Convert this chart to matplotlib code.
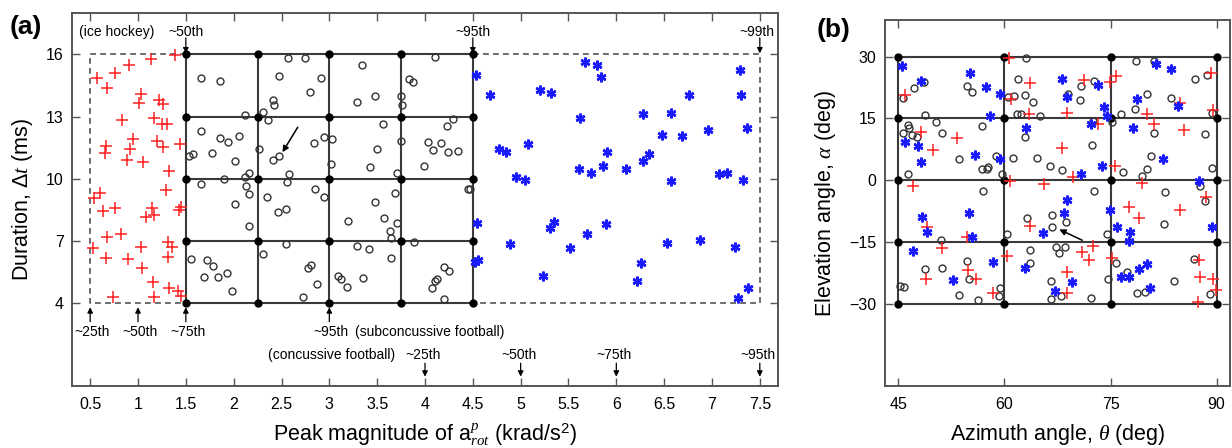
import numpy as np
import matplotlib
matplotlib.use("Agg")
import matplotlib.pyplot as plt

plt.rcParams['font.family'] = ['Liberation Sans', 'DejaVu Sans']
plt.rcParams['mathtext.fontset'] = 'custom'
plt.rcParams['mathtext.rm'] = 'Liberation Sans'
plt.rcParams['mathtext.it'] = 'Liberation Serif:italic'
plt.rcParams['mathtext.bf'] = 'Liberation Sans:bold'

# ---------------- panel (a) data ----------------
hockey_x = [1.39, 1.14, 0.91, 0.76, 0.57, 0.68, 1.03, 1.01, 1.22, 1.26, 0.83, 1.17, 1.25, 1.30,
            0.95, 1.20, 1.44, 0.67, 0.66, 0.92, 1.26, 0.89, 1.05, 1.32, 1.29, 0.54, 0.60, 0.63,
            0.76, 1.08, 1.17, 1.15, 1.43, 1.45, 0.68, 0.82, 0.53, 0.67, 0.90, 1.03, 1.04, 1.31,
            1.36, 1.31, 1.16, 1.32, 1.42, 1.45, 0.74, 1.17]
hockey_y = [15.95, 15.79, 15.47, 15.10, 14.88, 14.38, 14.09, 13.66, 13.79, 13.61, 12.82, 12.95, 12.66, 12.66,
            11.94, 11.84, 11.70, 11.57, 11.25, 11.43, 11.54, 10.90, 10.81, 10.37, 9.45, 9.08, 9.32, 8.44,
            8.60, 8.17, 8.25, 8.60, 8.49, 8.65, 7.17, 7.32, 6.65, 6.16, 6.12, 6.69, 5.71, 6.96,
            6.72, 6.21, 5.04, 4.72, 4.59, 4.36, 4.29, 4.31]

conc_x = [1.66, 1.86, 2.57, 2.75, 2.47, 2.91, 2.80, 2.41, 2.42, 2.31, 2.36, 2.12, 3.34, 3.29,
          3.48, 3.83, 3.87, 3.75, 3.76, 4.10, 3.56, 4.29, 4.23, 3.75, 4.03, 4.17, 4.08, 4.24,
          4.35, 3.99, 3.71, 3.69, 4.45, 4.47, 1.66, 1.86, 1.94, 2.06, 1.77, 1.53, 1.57, 2.01,
          2.26, 2.41, 2.47, 2.84, 2.94, 3.03, 3.02, 3.50, 3.42, 1.66, 1.90, 2.12, 2.16, 2.13,
          2.16, 2.35, 2.56, 2.58, 2.85, 2.94, 2.01, 2.16, 2.46, 2.55, 3.20, 3.48, 3.57, 3.63,
          3.64, 3.71, 1.55, 1.72, 1.78, 1.69, 1.84, 1.93, 1.98, 2.31, 2.55, 2.78, 2.81, 2.87,
          2.72, 3.09, 3.12, 3.18, 3.29, 3.35, 3.41, 3.64, 3.88, 4.20, 4.25, 4.13, 4.10, 4.07, 4.20]
conc_y = [14.86, 14.73, 15.82, 15.84, 14.96, 14.88, 14.17, 13.82, 13.54, 13.22, 12.82, 13.06, 15.47, 13.69,
          13.99, 14.83, 14.67, 13.98, 13.54, 15.87, 12.66, 12.88, 12.53, 11.81, 11.78, 11.73, 11.39, 11.30,
          11.35, 10.61, 10.26, 9.29, 9.53, 9.49, 12.29, 11.97, 11.78, 12.07, 11.25, 11.09, 11.19, 10.86,
          11.43, 10.90, 11.10, 11.75, 12.02, 11.94, 10.70, 11.43, 10.57, 9.77, 10.01, 10.09, 10.26, 9.66,
          9.26, 9.13, 9.85, 10.21, 9.49, 9.10, 8.76, 7.72, 8.38, 8.52, 7.97, 8.86, 8.12, 7.49,
          7.13, 7.88, 6.12, 6.08, 5.81, 5.28, 5.25, 5.47, 4.60, 6.36, 6.84, 5.68, 5.84, 4.94,
          4.29, 5.33, 5.17, 4.80, 6.77, 5.23, 6.60, 6.19, 6.96, 5.73, 5.57, 5.15, 5.08, 4.72, 4.20]

sub_x = [4.53, 4.68, 5.67, 5.80, 5.84, 5.20, 5.32, 5.62, 6.28, 6.57, 6.76, 7.29, 7.30, 7.37,
         6.48, 6.69, 6.96, 4.77, 4.85, 5.08, 5.90, 6.34, 6.28, 5.86, 5.61, 5.74, 6.10, 4.95,
         5.05, 6.57, 7.07, 7.16, 7.32, 4.54, 4.89, 4.52, 4.55, 5.31, 5.35, 5.23, 5.52, 5.69,
         5.89, 6.26, 6.22, 6.53, 6.87, 7.24, 7.38, 7.27]
sub_y = [15.02, 14.03, 15.63, 15.47, 14.91, 14.30, 14.16, 12.95, 13.11, 13.17, 14.06, 15.23, 14.03, 12.47,
         12.13, 12.05, 12.37, 11.43, 11.30, 11.70, 11.27, 11.19, 10.85, 10.62, 10.46, 10.30, 10.45, 10.08,
         9.95, 9.89, 10.22, 10.26, 9.93, 7.85, 6.84, 6.00, 6.08, 7.61, 7.93, 5.31, 6.65, 7.33,
         7.80, 5.92, 5.09, 6.89, 7.05, 6.72, 4.75, 4.24]

grid_a_x = [1.5, 2.25, 3.0, 3.75, 4.5]
grid_a_y = [4, 7, 10, 13, 16]
xticks_a = [0.5, 1, 1.5, 2, 2.5, 3, 3.5, 4, 4.5, 5, 5.5, 6, 6.5, 7, 7.5]
xticklabels_a = ['0.5', '1', '1.5', '2', '2.5', '3', '3.5', '4', '4.5', '5', '5.5', '6', '6.5', '7', '7.5']
yticks_a = [4, 7, 10, 13, 16]

# percentile markers: (label, x)
top_marks = [('~50th', 1.5), ('~95th', 4.5), ('~99th', 7.5)]
mid_marks = [('~25th', 0.5), ('~50th', 1.0), ('~75th', 1.5), ('~95th', 3.0)]
low_marks = [('~25th', 4.0), ('~50th', 5.0), ('~75th', 6.0), ('~95th', 7.5)]

# ---------------- panel (b) data ----------------
b_hockey_x = [45.94, 48.15, 49.92, 53.30, 47.02, 60.62, 60.96, 63.63, 63.44, 60.82, 65.55, 68.83,
              68.13, 69.72, 71.26, 73.29, 74.93, 75.73, 75.63, 79.47, 80.18, 81.12, 84.88, 85.44,
              89.24, 89.47, 88.54, 77.66, 79.07, 84.88, 48.99, 51.10, 48.85, 54.76, 54.85, 56.03,
              58.43, 60.31, 63.63, 68.87, 68.87, 70.94, 72.02, 72.49, 75.21, 87.45, 87.59, 89.47,
              89.90, 87.36]
b_hockey_y = [20.63, 11.73, 7.44, 10.35, -1.37, 29.77, 19.66, 23.62, 16.02, -0.16, -0.97, 16.34,
              7.69, 0.65, 24.43, 13.59, 23.87, 25.32, 3.48, -0.81, 16.18, 13.59, 18.77, 12.30,
              26.05, 16.99, -4.04, -6.47, -9.30, -7.28, -11.33, -16.59, -24.03, -13.92, -21.84, -24.03,
              -27.35, -18.45, -11.17, -22.41, -27.35, -17.39, -19.42, -15.94, -19.01, -19.42, -23.62, -24.07,
              -26.70, -29.53]

b_conc_x = [45.62, 45.70, 46.41, 46.55, 46.88, 47.67, 46.32, 47.25, 48.66, 48.76, 50.30, 51.10,
            53.54, 54.76, 55.47, 56.83, 56.83, 57.53, 57.68, 56.96, 58.75, 59.64, 60.49, 61.32,
            61.98, 61.74, 62.36, 62.93, 63.07, 62.93, 63.99, 65.08, 61.27, 64.65, 66.38, 68.08,
            68.92, 70.80, 70.66, 72.67, 72.58, 72.44, 72.67, 75.27, 76.46, 76.83, 78.47, 78.61,
            80.18, 79.47, 80.10, 80.66, 81.12, 81.22, 83.61, 82.67, 86.91, 88.69, 88.41, 89.33,
            89.42, 87.63, 88.38, 63.25, 66.72, 66.77, 68.74, 60.42, 63.63, 63.63, 67.29, 68.55,
            67.75, 66.63, 66.63, 67.95, 72.31, 74.51, 74.65, 75.73, 77.35, 78.76, 79.94, 82.62,
            83.93, 86.77, 89.14, 50.99, 48.82, 51.17, 45.24, 45.85, 53.54, 56.26, 54.71, 54.95,
            59.31, 59.21]
b_conc_y = [19.98, 11.49, 13.35, 12.78, 10.92, 10.52, 1.38, 22.49, 23.95, 15.78, 14.16, 11.57,
            5.10, 22.82, 21.44, 13.19, 2.59, 2.83, 3.16, -2.67, 5.83, 1.46, 20.23, 20.39,
            24.68, 16.18, 16.18, 20.79, 29.77, 10.52, 19.01, 15.53, 5.26, 5.50, 3.48, 2.43,
            21.04, 22.82, 19.58, 24.11, 14.32, 8.66, -2.67, 14.16, 16.18, 2.02, 17.23, 28.97,
            20.87, 1.05, 2.67, 5.91, 11.49, 28.97, 19.98, -2.99, 24.68, 25.49, 11.17, 16.42,
            2.99, -1.37, -5.10, -9.30, -8.50, -11.33, -10.11, -13.19, -16.99, -20.07, -16.18, -16.18,
            -17.80, -24.51, -28.88, -28.07, -28.64, -13.19, -24.03, -20.22, -22.25, -27.35, -27.10, -10.68,
            -24.43, -19.25, -27.67, -14.56, -21.60, -21.44, -25.73, -25.89, -27.91, -29.13, -19.58, -24.11,
            -26.29, -28.16]

b_sub_x = [45.48, 48.26, 45.94, 47.73, 48.26, 55.19, 57.44, 57.90, 59.41, 55.79, 59.31, 63.07,
           68.08, 68.78, 70.89, 73.29, 74.09, 72.21, 74.55, 73.84, 68.78, 68.36, 74.93, 54.99,
           48.40, 78.77, 78.21, 81.50, 83.61, 84.50, 82.43, 87.55, 49.06, 55.42, 47.08, 52.77,
           58.37, 62.93, 65.41, 67.10, 69.58, 75.96, 77.75, 77.61, 76.44, 77.61, 79.02, 80.10,
           80.52, 89.33]
b_sub_y = [27.67, 24.03, 9.30, 8.33, 4.29, 26.05, 22.65, 15.53, 20.87, 6.07, 5.02, 12.70,
           24.68, 20.23, 1.46, 23.06, 17.80, 13.75, 15.61, 3.40, -4.85, -8.09, -7.28, -8.09,
           -9.06, 19.66, 12.70, 28.32, 26.94, 18.04, 5.10, -0.24, -12.54, -13.75, -17.15, -24.27,
           -19.98, -21.44, -12.78, -26.86, -24.68, -11.49, -12.54, -14.81, -23.46, -23.46, -21.68, -20.39,
           -26.29, -11.33]

grid_b_x = [45, 60, 75, 90]
grid_b_y = [-30, -15, 0, 15, 30]

GRID_C = '#3a3a3a'
SPINE_C = '#555555'

fig = plt.figure(figsize=(12.32, 4.48), dpi=100)
ax = fig.add_axes([0.05844, 0.13839, 0.57305, 0.83259])
bx = fig.add_axes([0.71834, 0.13839, 0.28003, 0.81696])


def style_axis(a):
    for s in a.spines.values():
        s.set_color(SPINE_C)
        s.set_linewidth(1.4)
    a.tick_params(direction='in', top=True, right=True, length=6, width=1,
                  color=SPINE_C, labelsize=11.5, pad=6)
    a.tick_params(axis='x', pad=8)


# ---- panel (a) ----
style_axis(ax)
ax.set_xlim(0.31, 7.69)
ax.set_ylim(0, 18)
ax.set_xticks(xticks_a)
ax.set_xticklabels(xticklabels_a)
ax.set_yticks(yticks_a)

# dashed boxes for hockey and subconcussive ranges
dash = dict(color='#555555', lw=1.2, ls=(0, (3.5, 2.5)))
ax.plot([1.5, 0.5, 0.5, 1.5], [16, 16, 4, 4], **dash)
ax.plot([4.5, 7.5, 7.5, 4.5], [16, 16, 4, 4], **dash)

ax.vlines(grid_a_x, grid_a_y[0], grid_a_y[-1], color=GRID_C, lw=1.5, zorder=2)
ax.hlines(grid_a_y, grid_a_x[0], grid_a_x[-1], color=GRID_C, lw=1.5, zorder=2)
gx, gy = np.meshgrid(grid_a_x, grid_a_y)
ax.plot(gx.ravel(), gy.ravel(), 'o', color='k', ms=5, zorder=3)

ax.plot(hockey_x, hockey_y, '+', color='#ff2020', ms=8, mew=1.1, zorder=4)
ax.plot(conc_x, conc_y, 'o', mfc='none', mec='#333333', ms=5, mew=1.0, zorder=4)
ax.plot(sub_x, sub_y, ls='none', marker=(6, 2, 0), color='#1a1aff', ms=7, mew=1.8, zorder=4)

arrow = dict(arrowstyle='-|>', color='k', lw=0.9, mutation_scale=8, shrinkA=0, shrinkB=0)
for lab, xv in top_marks:
    ax.annotate('', xy=(xv, 16.05), xytext=(xv, 16.8), arrowprops=arrow)
    ax.text(min(xv, 7.47), 17.07, lab, ha='center', va='center', fontsize=10)
ax.text(1.175, 17.07, '(ice hockey)', ha='right', va='center', fontsize=10)

for lab, xv in mid_marks:
    ax.annotate('', xy=(xv, 3.8), xytext=(xv, 3.1), arrowprops=arrow)
    ax.text(xv + 0.02, 2.63, lab, ha='center', va='center', fontsize=10)
ax.text(3.27, 2.63, '(subconcussive football)', ha='left', va='center', fontsize=10)

for lab, xv in low_marks:
    ax.annotate('', xy=(xv, 0.45), xytext=(xv, 1.1), arrowprops=arrow)
    ax.text(xv - 0.02, 1.52, lab, ha='center', va='center', fontsize=10)
ax.text(3.69, 1.52, '(concussive football)', ha='right', va='center', fontsize=10)

# pointer arrow inside the grid
ax.annotate('', xy=(2.51, 11.28), xytext=(2.67, 12.49),
            arrowprops=dict(arrowstyle='-|>', color='k', lw=1.1, mutation_scale=9,
                            shrinkA=0, shrinkB=0))

ax.set_xlabel(r'Peak magnitude of $\mathrm{a}^{p}_{rot}$ (krad/s$^{2}$)', fontsize=15.5, labelpad=7)
ax.set_ylabel(r'Duration, $\Delta t$ (ms)', fontsize=15.5, labelpad=8)

# ---- panel (b) ----
style_axis(bx)
bx.set_xlim(43.1, 91.9)
bx.set_ylim(-50, 38.9)
bx.set_xticks(grid_b_x)
bx.set_yticks(grid_b_y)

bx.vlines(grid_b_x, grid_b_y[0], grid_b_y[-1], color=GRID_C, lw=1.5, zorder=2)
bx.hlines(grid_b_y, grid_b_x[0], grid_b_x[-1], color=GRID_C, lw=1.5, zorder=2)
hx, hy = np.meshgrid(grid_b_x, grid_b_y)
bx.plot(hx.ravel(), hy.ravel(), 'o', color='k', ms=5, zorder=3)

bx.plot(b_conc_x, b_conc_y, 'o', mfc='none', mec='#333333', ms=5, mew=1.0, zorder=4)
bx.plot(b_hockey_x, b_hockey_y, '+', color='#ff2020', ms=8, mew=1.1, zorder=4)
bx.plot(b_sub_x, b_sub_y, ls='none', marker=(6, 2, 0), color='#1a1aff', ms=7, mew=1.8, zorder=4)

bx.annotate('', xy=(67.75, -11.97), xytext=(71.0, -14.6),
            arrowprops=dict(arrowstyle='-|>', color='k', lw=1.1, mutation_scale=9,
                            shrinkA=0, shrinkB=0))

bx.set_xlabel(r'Azimuth angle, $\theta$ (deg)', fontsize=15.5, labelpad=7)
bx.set_ylabel(r'Elevation angle, $\alpha$ (deg)', fontsize=15.5, labelpad=8)

fig.text(10 / 1232, 1 - 27 / 448, '(a)', fontsize=19, fontweight='bold', va='center', ha='left')
fig.text(817 / 1232, 1 - 30 / 448, '(b)', fontsize=19, fontweight='bold', va='center', ha='left')

fig.savefig('out.png', dpi=100)
